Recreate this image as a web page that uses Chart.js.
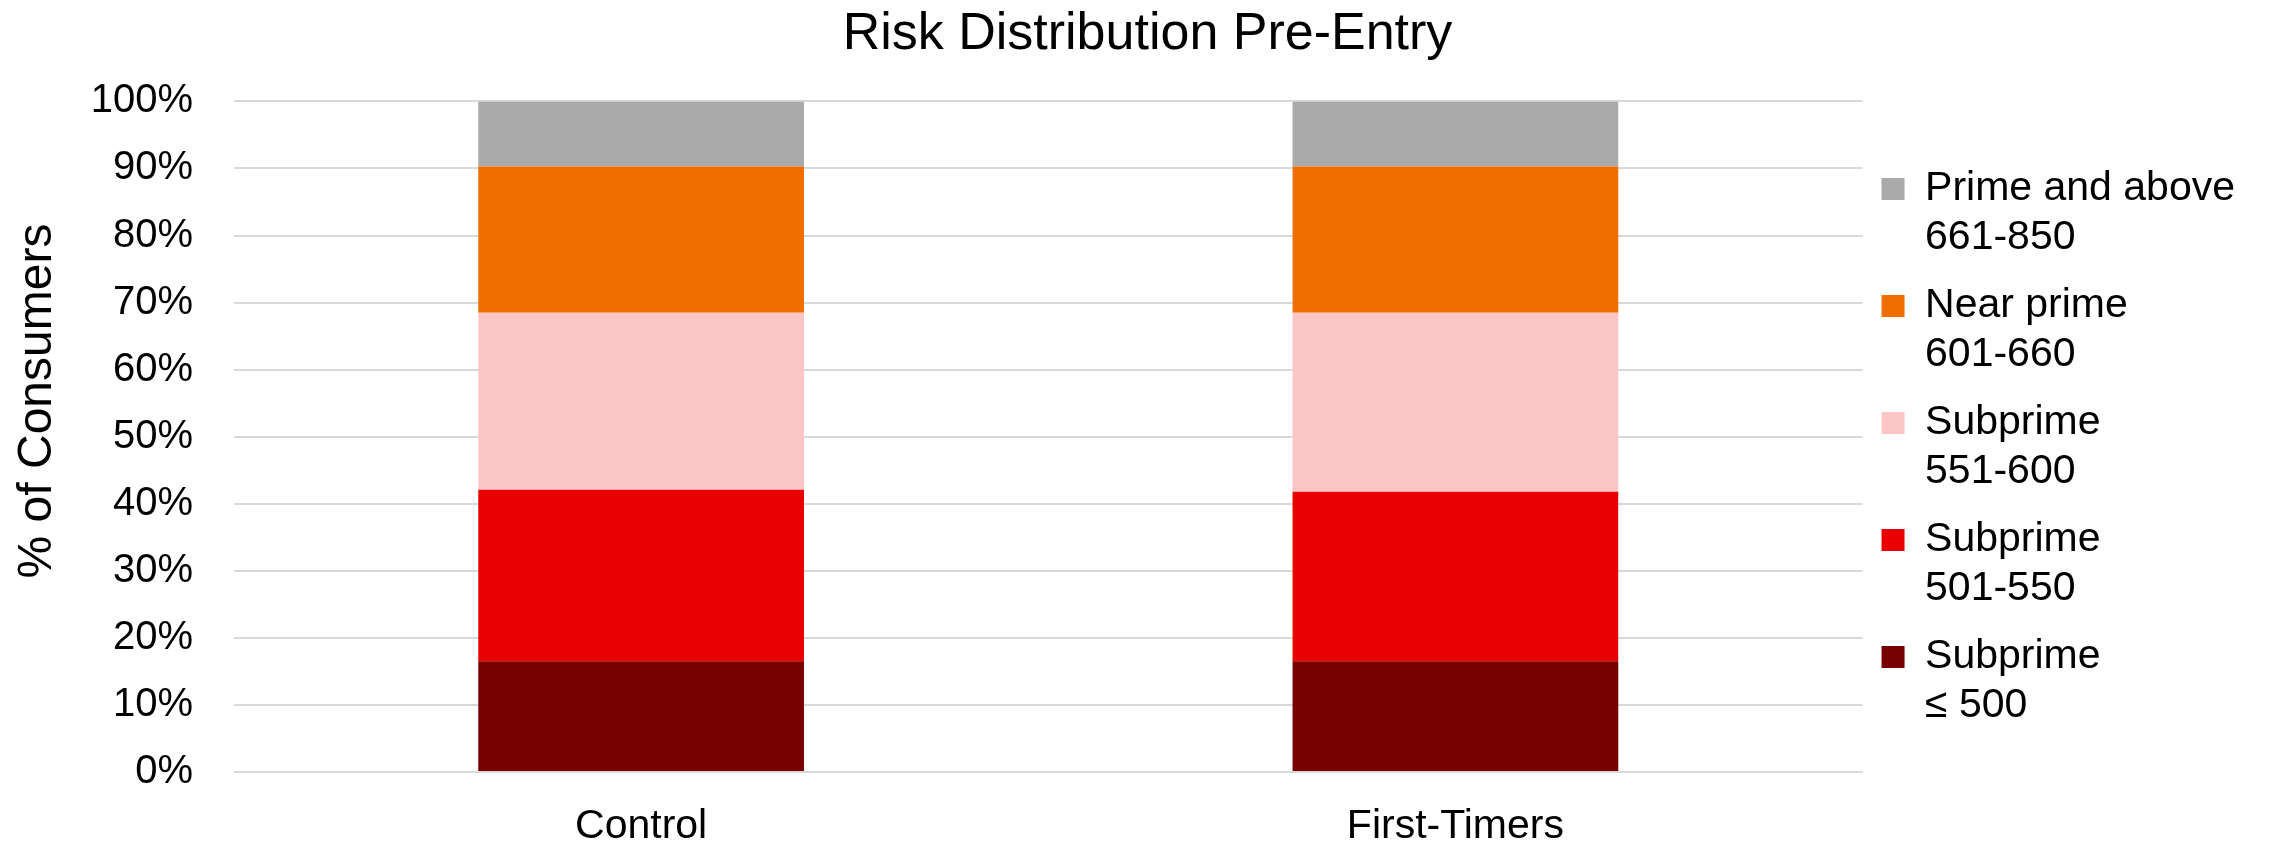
<!DOCTYPE html>
<html>
<head>
<meta charset="utf-8">
<title>Risk Distribution Pre-Entry</title>
<script src="https://cdn.jsdelivr.net/npm/chart.js@4.4.1/dist/chart.umd.min.js"></script>
<style>
  html, body { margin: 0; padding: 0; background: #ffffff; }
  #wrap { width: 2275px; height: 841px; position: relative; }
</style>
</head>
<body>
<div id="wrap"><canvas id="riskChart" width="2275" height="841"></canvas></div>
<script>
// Categories along the x axis
const groups = ['Control', 'First-Timers'];

// Risk bands, bottom of the stack first; legend lines for each band
const bandLines = [
    ['Subprime', '≤ 500'],
    ['Subprime', '501-550'],
    ['Subprime', '551-600'],
    ['Near prime', '601-660'],
    ['Prime and above', '661-850']
];
const bandColors = ['#760000', '#e90000', '#fdc6c6', '#f06e00', '#aaaaaa'];

// Share of consumers (%) in each band, per group
const subprime500 = [16.5, 16.5];
const subprime550 = [25.6, 25.3];
const subprime600 = [26.4, 26.7];
const nearPrime = [21.8, 21.8];
const primeAbove = [9.7, 9.7];

const yTicks = [0, 10, 20, 30, 40, 50, 60, 70, 80, 90, 100];

const FONT = "'Liberation Sans', Arial, Helvetica, sans-serif";
Chart.defaults.font.family = FONT;
Chart.defaults.color = '#000000';

// Y axis title sits a little above the plot's middle in the original
const yTitlePlugin = {
    id: 'yTitle',
    afterDraw(chart, args, opts) {
        const c = chart.ctx;
        c.save();
        c.translate(opts.x, opts.y);
        c.rotate(-Math.PI / 2);
        c.font = opts.size + 'px ' + FONT;
        c.fillStyle = '#000000';
        c.textAlign = 'center';
        c.textBaseline = 'middle';
        c.fillText(opts.text, 0, 0);
        c.restore();
    }
};

document.addEventListener('DOMContentLoaded', () => {
    const series = [subprime500, subprime550, subprime600, nearPrime, primeAbove];

    const datasets = series.map((values, i) => ({
        label: bandLines[i].join(' '),
        data: values,
        backgroundColor: bandColors[i],
        borderWidth: 0,
        barPercentage: 0.4,
        categoryPercentage: 1.0
    }));

    const ctx = document.getElementById('riskChart');
    new Chart(ctx, {
        type: 'bar',
        data: { labels: groups, datasets: datasets },
        plugins: [yTitlePlugin],
        options: {
            responsive: false,
            animation: false,
            layout: { padding: { left: 50, right: 30, top: 0, bottom: 0 } },
            plugins: {
                title: {
                    display: true,
                    text: 'Risk Distribution Pre-Entry',
                    font: { size: 52, weight: 'normal' },
                    color: '#000000',
                    padding: { top: 3, bottom: 36 }
                },
                yTitle: { text: '% of Consumers', x: 38, y: 401, size: 48 },
                legend: {
                    position: 'right',
                    reverse: true,
                    title: { display: true, text: '', padding: 0, font: { size: 62, lineHeight: 1 } },
                    labels: {
                        boxWidth: 23,
                        boxHeight: 22,
                        padding: 19,
                        font: { size: 41, lineHeight: 1.195 },
                        color: '#000000',
                        generateLabels: (chart) => {
                            const items = Chart.defaults.plugins.legend.labels.generateLabels(chart);
                            items.forEach(item => { item.text = bandLines[item.datasetIndex]; });
                            return items;
                        }
                    }
                },
                tooltip: { enabled: false }
            },
            scales: {
                x: {
                    stacked: true,
                    grid: { display: false },
                    border: { display: false },
                    ticks: { font: { size: 41 }, color: '#000000', padding: 22 },
                    afterFit: (scale) => { scale.height = 69; }
                },
                y: {
                    stacked: true,
                    min: 0,
                    max: 100,
                    afterBuildTicks: (scale) => { scale.ticks = yTicks.map(v => ({ value: v })); },
                    grid: { color: '#d9d9d9', lineWidth: 2, drawTicks: false },
                    border: { display: false },
                    ticks: {
                        font: { size: 40 },
                        color: '#000000',
                        padding: 41,
                        callback: (v) => v + '%'
                    },
                    afterFit: (scale) => { scale.width = 184; }
                }
            }
        }
    });
});
</script>
</body>
</html>
